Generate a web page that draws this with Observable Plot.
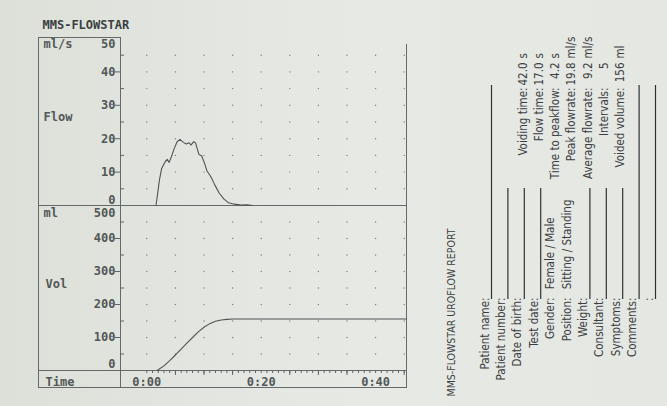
<!DOCTYPE html>
<html><head><meta charset="utf-8">
<script src="https://cdn.jsdelivr.net/npm/d3@7"></script>
<script src="https://cdn.jsdelivr.net/npm/@observablehq/plot@0.6"></script>
<style>
html,body{margin:0;padding:0;}
body{width:667px;height:406px;overflow:hidden;background:#e3e6e1;}
#c{position:relative;width:667px;height:406px;background:linear-gradient(90deg,#dce0d8 0%,#e2e5df 25%,#e7e9e5 55%,#e5e7e3 100%);}
#c svg{position:absolute;left:0;top:0;}
.ln{position:absolute;background:#646a69;}
</style></head><body><div id="c"></div>
<script>
// ---- data ----
const flowTime = [1.6,1.9,2.2,2.6,3.2,3.6,3.9,4.3,4.8,5.3,5.8,6.4,6.9,7.4,7.7,8.2,8.5,8.8,9.1,9.6,10.1,10.5,11.2,11.9,12.7,13.5,14.3,15.3,16.5,17.5,18.5];
const flowRate = [0,3.6,7.6,11.1,13.1,13.8,12.9,14.6,17.1,19.1,19.8,18.9,18.4,18.8,18.1,19.1,18.8,17.1,15.3,14.8,12.6,10.4,8.6,6.1,3.6,1.9,0.8,0.4,0.1,0.2,0];
const volTime = [1.8,3,4,5,6,7,8,9,10,11,12,13,14,15,45.4];
const volume = [0,14,30,47,65,83,100,117,131,142,149,153,155,156,156];

const flowMajor = [10,20,30,40];
const flowMinor = [5,15,25,35,45];
const volMajor = [100,200,300,400];
const volMinor = [50,150,250,350,450];
const gridTimes = [0,5,10,15,20,25,30,35,40,45];
const gridFlow = [5,10,15,20,25,30,35,40,45];
const gridVol = [50,100,150,200,250,300,350,400,450];
const timeTicks = [0,20,40];
const timeLabels = ["0:00","0:20","0:40"];
const timeMinor = d3.range(0,46,1);
const timeMid = [5,10,15,25,30,35,45];

const statLabels = ["Voiding time:","Flow time:","Time to peakflow:","Peak flowrate:","Average flowrate:","Intervals:","Voided volume:"];
const statValues = ["42.0","17.0","4.2","19.8","9.2","5","156"];
const statUnits = ["s","s","s","ml/s","ml/s","","ml"];

const reportTitle = "MMS-FLOWSTAR UROFLOW REPORT";
const formFields = ["Patient name:","Patient number:","Date of birth:","Test date:","Gender:","Position:","Weight:","Consultant:","Symptoms:","Comments:",":"];
const formOptions = ["","","","","Female / Male","Sitting / Standing","","","","",""];
const formLines = ["long","short","short","short","none","none","short","short","short","long","long"];

// ---- layout ----
const W = 667, H = 406;
const xDomain = [-4.6, 45.4];
const mono = "'DejaVu Sans Mono', monospace";
const ink = "#525757", line = "#5f6564";
const monoStyle = {fontFamily: mono, fontWeight: "bold", fontSize: 12, letterSpacing: "1.6px"};
const narrow = "'Liberation Sans Narrow', 'DejaVu Sans Condensed', sans-serif";
const frameW = 286;

const flowData = flowTime.map((t,i)=>({t, v: flowRate[i]}));
const volData = volTime.map((t,i)=>({t, v: volume[i]}));
const gridF = d3.cross(gridTimes, gridFlow).map(([t,v])=>({t,v}));
const gridV = d3.cross(gridTimes, gridVol).map(([t,v])=>({t,v}));

const txt = (data, o) => Plot.text(data, {fill: ink, ...monoStyle, ...o});

const flowPlot = Plot.plot({
  width: W, height: H, marginLeft: 120, marginRight: W-406, marginTop: 38, marginBottom: H-205,
  x: {domain: xDomain, axis: null}, y: {domain: [0,50], axis: null},
  style: {background: "transparent", overflow: "visible"},
  marks: [
    Plot.dot(gridF, {x: "t", y: "v", r: 0.7, fill: "#7c8181", stroke: null}),
    Plot.axisY({ticks: flowMajor, tickSize: 5, tickFormat: () => "", stroke: line, label: null}),
    Plot.tickY(flowMinor, {y: d=>d, insetRight: frameW-4, stroke: line}),
    txt(flowMajor, {y: d=>d, frameAnchor: "left", dx: -5, textAnchor: "end"}),
    txt([50], {y: d=>d, frameAnchor: "left", dx: -5, dy: 6, textAnchor: "end"}),
    txt([0], {y: d=>d, frameAnchor: "left", dx: -5, dy: -5, textAnchor: "end"}),
    txt(["ml/s"], {frameAnchor: "top-left", dx: -77, dy: 6, textAnchor: "start", lineAnchor: "middle"}),
    txt(["Flow"], {frameAnchor: "left", dx: -77, dy: -5, textAnchor: "start"}),
    txt(["MMS-FLOWSTAR"], {frameAnchor: "top-left", dx: -78, dy: -13, textAnchor: "start", lineAnchor: "middle", fill: "#3a3f3f"}),
    Plot.line(flowData, {x: "t", y: "v", stroke: "#4e5454", strokeWidth: 1.1})
  ]
});

const volPlot = Plot.plot({
  width: W, height: H, marginLeft: 120, marginRight: W-406, marginTop: 205, marginBottom: H-370,
  x: {domain: xDomain, axis: null}, y: {domain: [0,500], axis: null},
  style: {background: "transparent", overflow: "visible"},
  marks: [
    Plot.dot(gridV, {x: "t", y: "v", r: 0.7, fill: "#7c8181", stroke: null}),
    Plot.axisY({ticks: volMajor, tickSize: 5, tickFormat: () => "", stroke: line, label: null}),
    Plot.tickY(volMinor, {y: d=>d, insetRight: frameW-4, stroke: line}),
    Plot.axisX({ticks: timeMinor, tickSize: 3, tickFormat: () => "", stroke: line, label: null}),
    Plot.axisX({ticks: timeMid, tickSize: 5, tickFormat: () => "", stroke: line, label: null}),
    txt(volMajor, {y: d=>d, frameAnchor: "left", dx: -5, textAnchor: "end"}),
    txt([500], {y: d=>d, frameAnchor: "left", dx: -5, dy: 8, textAnchor: "end"}),
    txt([0], {y: d=>d, frameAnchor: "left", dx: -5, dy: -6, textAnchor: "end"}),
    txt(["ml"], {frameAnchor: "top-left", dx: -77, dy: 8, textAnchor: "start", lineAnchor: "middle"}),
    txt(["Vol"], {frameAnchor: "left", dx: -75, dy: -4, textAnchor: "start"}),
    txt(["Time"], {frameAnchor: "bottom-left", dx: -75, dy: 12, textAnchor: "start", lineAnchor: "middle"}),
    txt(timeTicks, {x: d=>d, frameAnchor: "bottom", dy: 12, lineAnchor: "middle", text: (d,i)=>timeLabels[i]}),
    Plot.line(volData, {x: "t", y: "v", stroke: "#4e5454", strokeWidth: 1.1})
  ]
});

// report form (rotated text block)
const fieldX = i => 488 + i*16.4;
const statX = i => 526 + i*16.3;
const rows = formFields.map((f,i)=>({label: f, opt: formOptions[i], kind: formLines[i], x: fieldX(i)}));
const stats = statLabels.map((s,i)=>({label: s, value: statValues[i], unit: statUnits[i], x: statX(i)}));
const fTxt = (data, o) => Plot.text(data, {rotate: -90, lineAnchor: "bottom", fontFamily: narrow, fontSize: 11.5, fill: "#3b3e3e", ...o});

const formPlot = Plot.plot({
  width: W, height: H, margin: 0,
  x: {type: "identity", axis: null}, y: {type: "identity", axis: null},
  style: {background: "transparent", overflow: "visible"},
  marks: [
    fTxt([reportTitle], {x: 454, y: 396, textAnchor: "start", fontSize: 10.5}),
    fTxt(rows, {x: "x", y: 297, text: "label", textAnchor: "end"}),
    fTxt(rows.filter(d=>d.opt), {x: "x", y: 292, text: d=>" " + d.opt, textAnchor: "start"}),
    Plot.ruleX(rows.filter(d=>d.kind!=="none"), {x: d=>d.x+3, y1: d=>d.kind==="long"?85:188, y2: 299, stroke: "#2f3232", strokeWidth: 1.2}),
    fTxt(stats, {x: "x", y: 87, text: "label", textAnchor: "end"}),
    fTxt(stats, {x: "x", y: 62, text: "value", textAnchor: "end"}),
    fTxt(stats.filter(d=>d.unit), {x: "x", y: 58, text: "unit", textAnchor: "start"})
  ]
});

const c = document.getElementById("c");
// frame lines of the printed chart
[[38,37,1,350],[38,37,82,1],[120,37,1,350],[38,205,368,1],[38,370,368,1],[38,387,369,1],[406,44,1,343]].forEach(([x,y,w,h])=>{
  const d = document.createElement("div"); d.className = "ln";
  d.style.left = x+"px"; d.style.top = y+"px"; d.style.width = w+"px"; d.style.height = h+"px";
  c.appendChild(d);
});
c.appendChild(flowPlot);
c.appendChild(volPlot);
c.appendChild(formPlot);
</script>
</body></html>
